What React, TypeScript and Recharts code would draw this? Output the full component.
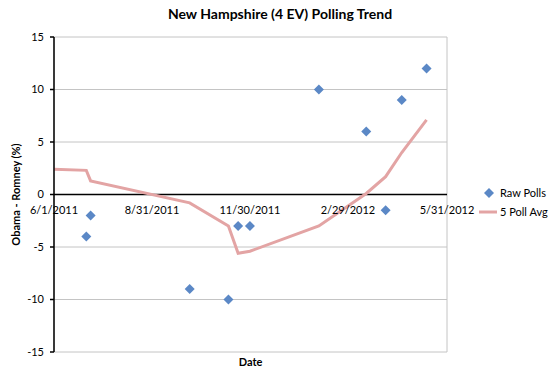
import React from 'react';
import {
  ComposedChart, Line, Scatter, XAxis, YAxis, CartesianGrid, ReferenceLine, ReferenceDot, Label,
} from 'recharts';

const START = Date.UTC(2011, 5, 1);
const toDay = (s: string) => {
  const [y, m, d] = s.split('-').map(Number);
  return (Date.UTC(y, m - 1, d) - START) / 864e5;
};

const rawPollDates = ['2011-07-01', '2011-07-05', '2011-10-05', '2011-11-10', '2011-11-19', '2011-11-30', '2012-02-02', '2012-03-17', '2012-04-04', '2012-04-19', '2012-05-12'];
const rawPollValues = [-4, -2, -9, -10, -3, -3, 10, 6, -1.5, 9, 12];

const avgDates = ['2011-06-01', '2011-07-01', '2011-07-05', '2011-10-05', '2011-11-10', '2011-11-19', '2011-11-30', '2012-02-02', '2012-03-17', '2012-04-04', '2012-04-19', '2012-05-12'];
const avgValues = [2.4, 2.3, 1.3, -0.8, -3.0, -5.6, -5.4, -3.0, 0.1, 1.7, 4.0, 7.1];

const xTickDates = ['2011-06-01', '2011-08-31', '2011-11-30', '2012-02-29', '2012-05-31'];
const xTickLabels = ['6/1/2011', '8/31/2011', '11/30/2011', '2/29/2012', '5/31/2012'];
const yTicks = [-15, -10, -5, 0, 5, 10, 15];

const rawData = rawPollDates.map((d, i) => ({ day: toDay(d), v: rawPollValues[i] }));
const avgData = avgDates.map((d, i) => ({ day: toDay(d), v: avgValues[i] }));
const xTicks = xTickDates.map(toDay);

const FONT = 'Lato, "Open Sans", sans-serif';
const BLUE = '#5b88c6';
const PINK = '#e3a4a4';

const Diamond = (props: any) => {
  const { cx, cy } = props;
  const r = 5;
  return <polygon points={`${cx},${cy - r} ${cx + r},${cy} ${cx},${cy + r} ${cx - r},${cy}`} fill={BLUE} />;
};

export default function App() {
  return (
    <div style={{ position: 'absolute', left: 0, top: 0, width: 560, height: 378, background: '#fff' }}>
      <div style={{ position: 'absolute', left: 0, top: 5, width: 560, textAlign: 'center', fontFamily: FONT, fontWeight: 'bold', fontSize: 14, color: '#000' }}>
        New Hampshire (4 EV) Polling Trend
      </div>
      <ComposedChart width={560} height={378} margin={{ top: 37, right: 113, bottom: 0, left: 0 }}>
        <CartesianGrid stroke="#c4c4c4" strokeWidth={1} />
        <XAxis
          dataKey="day"
          type="number"
          domain={[0, 365]}
          ticks={xTicks}
          tick={false}
          tickLine={false}
          axisLine={false}
          height={26}
          allowDataOverflow
        >
          <Label value="Date" position="center" dy={-3} style={{ fontFamily: FONT, fontWeight: 'bold', fontSize: 11, fill: '#000' }} />
        </XAxis>
        <YAxis
          type="number"
          domain={[-15, 15]}
          ticks={yTicks}
          width={54}
          axisLine={{ stroke: '#000', strokeWidth: 1.5 }}
          tickLine={{ stroke: '#000', strokeWidth: 1.5 }}
          tickSize={4}
          tickMargin={6}
          tick={{ fontFamily: FONT, fontSize: 11, fill: '#000' }}
          allowDataOverflow
        >
          <Label value="Obama - Romney (%)" angle={-90} position="center" dx={-11} style={{ fontFamily: FONT, fontWeight: 'bold', fontSize: 11, fill: '#000', textAnchor: 'middle' }} />
        </YAxis>
        <ReferenceLine y={0} stroke="#000" strokeWidth={1.5} />
        {xTicks.map((t, i) => (
          <ReferenceDot key={t} x={t} y={0} r={0} fill="none" stroke="none" ifOverflow="visible"
            label={{ value: xTickLabels[i], position: 'bottom', offset: 12, style: { fontFamily: FONT, fontSize: 11, fill: '#000' } }} />
        ))}
        <Line data={avgData} dataKey="v" type="linear" stroke={PINK} strokeWidth={3} dot={false} activeDot={false} isAnimationActive={false} name="5 Poll Avg" />
        <Scatter data={rawData} dataKey="v" fill={BLUE} shape={<Diamond />} isAnimationActive={false} name="Raw Polls" />
      </ComposedChart>
      <div style={{ position: 'absolute', left: 478, top: 183, fontFamily: FONT, fontSize: 11, color: '#000' }}>
        <div style={{ display: 'flex', alignItems: 'center', height: 19 }}>
          <svg width={20} height={12}><polygon points="11,1 16,6 11,11 6,6" fill={BLUE} /></svg>
          <span style={{ marginLeft: 2 }}>Raw Polls</span>
        </div>
        <div style={{ display: 'flex', alignItems: 'center', height: 19 }}>
          <svg width={20} height={12}><line x1={1} y1={6} x2={19} y2={6} stroke={PINK} strokeWidth={3} /></svg>
          <span style={{ marginLeft: 2 }}>5 Poll Avg</span>
        </div>
      </div>
    </div>
  );
}
